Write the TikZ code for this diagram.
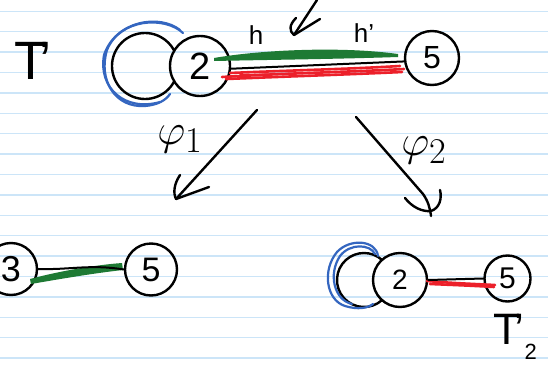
\documentclass[tikz,border=0pt]{standalone}
\usepackage{graphicx}
\usepackage{fontspec}
\setmainfont{Liberation Sans}
\begin{document}
\begin{tikzpicture}[x=1pt,y=-1pt,
  pen/.style={line width=2.4pt,line cap=round,line join=round,black},
  vert/.style={circle,draw=black,line width=2.4pt,inner sep=0pt},
  ruled/.style={line width=1.4pt,color=ruleblue},
  hl/.style={line width=2.6pt,line cap=round},
  looppen/.style={line width=2.2pt,line cap=round,color=loopblue}]
\definecolor{ruleblue}{RGB}{204,229,248}
\definecolor{loopblue}{RGB}{52,102,192}
\definecolor{edgegreen}{RGB}{30,122,52}
\definecolor{edgered}{RGB}{236,32,42}
\useasboundingbox (0,0) rectangle (548,372);
\fill[white] (0,0) rectangle (548,372);
% notebook ruling
\foreach \k in {0,...,17}
  \draw[ruled] (0,{11.2+20.4*\k}) -- (548,{11.2+20.4*\k});

% ---------- T' (top) ----------
\node (Tlab) at (33,61) {\fontsize{54}{54}\selectfont T\kern-0.16em’};
% loop at vertex 2
\node[vert,minimum size=60pt] (t2) at (200,66) {\fontsize{38}{38}\selectfont 2};
\draw[pen] (t2.center) ++(-55,0) ++(28:33) arc[start angle=28,end angle=332,radius=33];
\draw[looppen] (183,33) .. controls (165,16) and (120,18) .. (107,50)
  .. controls (98,80) and (115,108) .. (145,106) .. controls (158,105) and (166,100) .. (170,94);
\draw[looppen] (180,30) .. controls (160,14) and (116,20) .. (104,55)
  .. controls (98,88) and (125,112) .. (160,102);
\node[vert,minimum size=54pt] (t5) at (432,58) {\fontsize{32}{32}\selectfont 5};
% edge h / h'
\fill[edgegreen] (214,58) .. controls (260,50) and (340,46) .. (398,54)
  -- (398,57) .. controls (340,59) and (260,60) .. (214,61) -- cycle;
\draw[pen,line width=2pt] (t2.-5) -- (t5.187);
\draw[hl,edgered] (222,77) .. controls (290,73) and (350,72) .. (404,69);
\draw[hl,edgered] (230,73) .. controls (300,70) and (350,69) .. (400,66);
\draw[hl,edgered] (226,79) .. controls (300,76) and (360,74) .. (402,72);
\draw[hl,edgered,line width=1.6pt] (240,75) -- (396,70);
\node (hlab) at (256,35) {\fontsize{26}{26}\selectfont h};
\node (hplab) at (364,33) {\fontsize{26}{26}\selectfont h’};
% pointer to the edge
\coordinate (ptop) at (317,0);
\coordinate (ptip) at (294,35);
\draw[pen] (ptop) -- (ptip);
\draw[pen] (296,18) .. controls (289,25) and (289,31) .. (ptip) -- (320,19);

% ---------- maps ----------
\coordinate (a1s) at (257,110);
\coordinate (a1t) at (176,199);
\draw[pen] (a1s) -- (a1t);
\draw[pen] (180,175) .. controls (174,184) and (173,193) .. (a1t) -- (209,187);
\node (phi1) at (180,139) {\fontsize{24.88}{30}\selectfont\scalebox{1.75}{$\varphi_1$}};

\coordinate (a2s) at (356,117);
\coordinate (a2t) at (431,216);
\draw[pen] (a2s) -- (423,194) .. controls (428,201) and (430,208) .. (a2t);
\draw[pen] (405,198) .. controls (412,207) and (422,212) .. (431,211)
  .. controls (440,208) and (442,198) .. (440,190);
\node (phi2) at (424,150) {\fontsize{24.88}{30}\selectfont\scalebox{1.75}{$\varphi_2$}};

% ---------- bottom left ----------
\node[vert,minimum size=52pt] (b3) at (11,269) {\fontsize{36}{36}\selectfont 3};
\node[vert,minimum size=52pt] (b5) at (151,269.5) {\fontsize{34}{34}\selectfont 5};
\fill[edgegreen] (30,279) .. controls (60,271) and (95,265) .. (122,263)
  -- (123,270) .. controls (95,273) and (60,279) .. (31,284) -- cycle;
\draw[pen,line width=2pt] (b3.east) .. controls (70,270) and (90,264) .. (b5.west);

% ---------- T'_2 (bottom right) ----------
\node[vert,minimum size=54pt] (c2) at (400,280) {\fontsize{28}{28}\selectfont 2};
\draw[pen] (c2.center) ++(-36,0) ++(48:27) arc[start angle=48,end angle=312,radius=27];
\draw[looppen] (378,256) .. controls (376,240) and (350,238) .. (337,252)
  .. controls (322,270) and (326,300) .. (345,306) .. controls (358,310) and (368,308) .. (373,304);
\draw[looppen] (375,254) .. controls (370,244) and (350,243) .. (340,256)
  .. controls (328,274) and (334,300) .. (352,304);
\node[vert,minimum size=46pt] (c5) at (507.5,278.5) {\fontsize{30}{30}\selectfont 5};
\draw[hl,edgered] (427,281) .. controls (450,283) and (475,284) .. (495,285);
\draw[hl,edgered] (430,284) .. controls (455,285) and (478,286) .. (494,287);
\draw[pen,line width=2pt] (c2.east) -- (c5.west);
\node (T2lab) at (515,337) {\fontsize{44}{44}\selectfont T\kern-0.12em’\raisebox{-0.35em}{\fontsize{22}{22}\selectfont 2}};
\end{tikzpicture}
\end{document}
